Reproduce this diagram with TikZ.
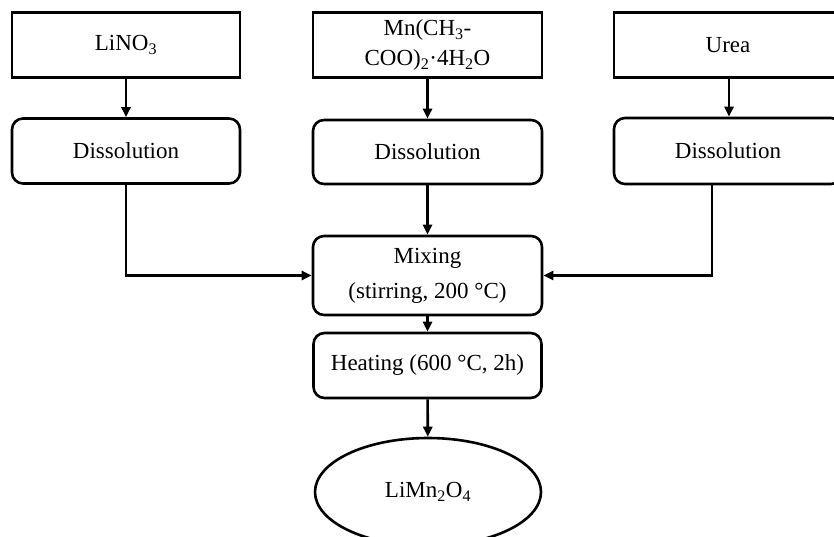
\documentclass[tikz,border=0pt]{standalone}
\usepackage{fontspec}
\setmainfont{Liberation Serif}
\usetikzlibrary{arrows.meta,shapes.geometric}
\begin{document}
\begin{tikzpicture}[x=1pt,y=-1pt,
  every node/.style={font=\fontsize{23}{27}\selectfont, align=center, inner sep=0pt},
  sqbox/.style={draw, line width=2.6pt, rectangle, minimum width=228pt, minimum height=65pt},
  rbox/.style={draw, line width=2.6pt, rectangle, rounded corners=11pt, minimum width=228pt, minimum height=65pt},
  oval/.style={draw, line width=2.6pt, ellipse, minimum width=226pt, minimum height=108pt},
  arr/.style={line width=2.6pt, -{Triangle[length=10pt,width=9pt]}}]
\useasboundingbox (0,0) rectangle (834,537);
\clip (0,0) rectangle (834,537);
\fill[white] (0,0) rectangle (834,537);
\node[sqbox] (lino3) at (126,45) {LiNO\textsubscript{3}};
\node[sqbox, minimum width=229pt] (mn) at (427.5,45) {Mn(CH\textsubscript{3}-\\[3pt]COO)\textsubscript{2}·4H\textsubscript{2}O};
\node[sqbox] (urea) at (728,45) {Urea};
\node[rbox] (d1) at (126,151) {Dissolution};
\node[rbox, minimum width=229pt, minimum height=64pt] (d2) at (427.5,152) {Dissolution};
\node[rbox, minimum height=66pt] (d3) at (728,151) {Dissolution};
\node[rbox, minimum width=229pt, minimum height=79pt] (mix) at (427.5,275.5) {Mixing\\[8pt](stirring, 200 °C)};
\node[rbox] (heat) at (427.5,365.5) {Heating (600 °C, 2h)};
\node[oval] (prod) at (428,492) {LiMn\textsubscript{2}O\textsubscript{4}};
\draw[arr] (lino3) -- (d1);
\draw[arr] (mn) -- (d2);
\draw[arr] (urea.south) ++(1,0) coordinate (ub) -- (ub |- d3.north);
\draw[arr] (d2) -- (mix);
\draw[arr] (mix) -- (heat);
\draw[arr] (heat) -- (prod);
\draw[arr] (d1.south) |- (mix.west);
\path (d3.south) ++(-16,0) coordinate (d3b);
\draw[arr] (d3b) |- (mix.east);
\end{tikzpicture}
\end{document}
